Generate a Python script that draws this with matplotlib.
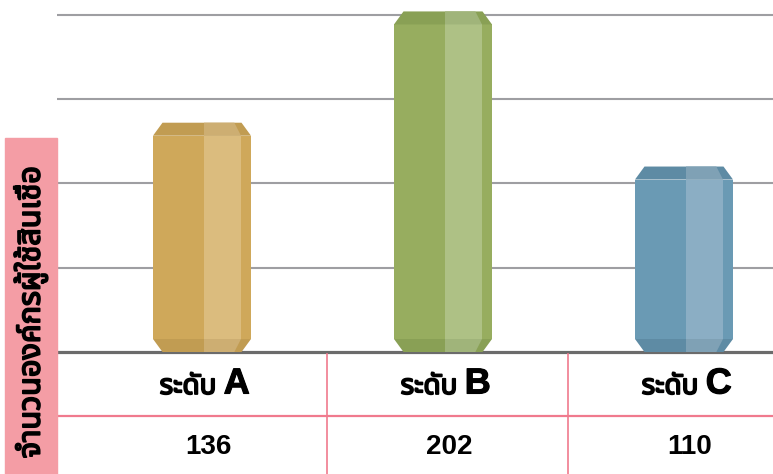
import matplotlib
matplotlib.use("Agg")
import matplotlib.pyplot as plt
import matplotlib.patheffects as pe
from matplotlib import font_manager
from matplotlib.ft2font import FT2Font
from matplotlib.patches import Rectangle

# Data
categories = ["ระดับ A", "ระดับ B", "ระดับ C"]
values = [136, 202, 110]
value_labels = ["136", "202", "110"]
y_label = "จำนวนองค์กรผู้ใช้สินเชื่อ"
grid_ticks = [50, 100, 150, 200]

# face colours: body, light stripe, cap, cap light
bar_colors = [
    ("#CFA85A", "#DBBC7E", "#C19C52", "#CDAE72"),
    ("#97AD5F", "#AEC185", "#89A055", "#A0B47A"),
    ("#6A9AB4", "#8BAEC4", "#5E8BA4", "#7FA1B5"),
]
PINK = "#F07A8E"
PINK_BOX = "#F49DA5"

W, H = 773, 474


def find_thai_font():
    names = []
    for f in font_manager.fontManager.ttflist:
        try:
            if FT2Font(f.fname).get_char_index(0x0E14):
                names.append(f.name)
        except Exception:
            pass
    for pref in ["Noto Sans Thai", "Noto Sans Thai UI", "Loma", "Garuda", "Tlwg Typo"]:
        if pref in names:
            return pref
    return names[0] if names else "DejaVu Sans"


thai = find_thai_font()
plt.rcParams["font.family"] = ["Liberation Sans", thai, "DejaVu Sans"]
# fake bold for the thai glyphs
thick = [pe.withStroke(linewidth=1.3, foreground="black")]
semi = [pe.withStroke(linewidth=0.8, foreground="black")]

fig = plt.figure(figsize=(W / 100, H / 100), dpi=100)

# main plot area: x 57..773 px, baseline at y=352 px
ax = fig.add_axes([57 / W, (H - 352) / H, (W - 57) / W, 352 / H])
px_per_cat = 241
x0 = -(202 - 57) / px_per_cat
x1 = x0 + (W - 57) / px_per_cat
ax.set_xlim(x0, x1)
ymax = 352 / (84.3 / 50)
ax.set_ylim(0, ymax)
ax.axis("off")

for t in grid_ticks:
    ax.axhline(t, color="#9E9EA2", lw=1.5, zorder=1)
ax.axhline(0, color="#6B6B6B", lw=2.3, zorder=2, clip_on=False)

bw = 98 / px_per_cat
inset = 9.5 / px_per_cat
cap = 13 / (84.3 / 50)
s1 = 51 / px_per_cat
s2 = 88 / px_per_cat

for i, (v, c) in enumerate(zip(values, bar_colors)):
    body, light, capc, capl = c
    L = i - bw / 2
    R = i + bw / 2
    S1, S2 = L + s1, L + s2
    # body
    ax.fill([L, R, R, L], [cap, cap, v - cap, v - cap], color=body, lw=0, zorder=3)
    ax.fill([S1, S2, S2, S1], [cap, cap, v - cap, v - cap], color=light, lw=0, zorder=4)
    # top cap
    ax.fill([L, L + inset, R - inset, R], [v - cap, v, v, v - cap], color=capc, lw=0, zorder=3)
    ax.fill([S1, S1, S2 - 0.7 * inset, S2], [v - cap, v, v, v - cap], color=capl, lw=0, zorder=4)
    # bottom cap
    ax.fill([L, L + inset, R - inset, R], [cap, 0, 0, cap], color=capc, lw=0, zorder=3)
    ax.fill([S1, S1, S2 - 0.7 * inset, S2], [cap, 0, 0, cap], color=capl, lw=0, zorder=4)

# table below the baseline
tax = fig.add_axes([57 / W, 0, (W - 57) / W, (H - 352) / H])
tax.set_xlim(x0, x1)
tax.set_ylim(H - 352, 0)
tax.axis("off")
tax.axhline(416 - 352, color=PINK, lw=1.6)
for b in [0.52, 1.52]:
    tax.plot([b, b], [2, H - 352], color=PINK, lw=1.2)

for i, (cat, val) in enumerate(zip(categories, value_labels)):
    th, letter = cat.split(" ")
    split = i + 0.09
    tax.text(split, 35, th + " ", ha="right", va="center",
             fontsize=20, family=[thai, "DejaVu Sans"], path_effects=thick)
    tax.text(split, 32, letter, ha="left", va="center",
             fontsize=26, fontweight="bold", family=["Liberation Sans"],
             path_effects=semi)
    tax.text(i + 0.025, 95, val, ha="center", va="center",
             fontsize=20, fontweight="bold", family=["Liberation Sans"])

# pink y-label box
fig.patches.append(Rectangle((5 / W, 0), 52 / W, (H - 138) / H,
                             transform=fig.transFigure, color=PINK_BOX, zorder=0))
fig.text(31 / W, 1 - 312 / H, y_label, rotation=90, ha="center", va="center",
         fontsize=22, family=[thai, "DejaVu Sans"], path_effects=thick)

fig.savefig("out.png", dpi=100)
